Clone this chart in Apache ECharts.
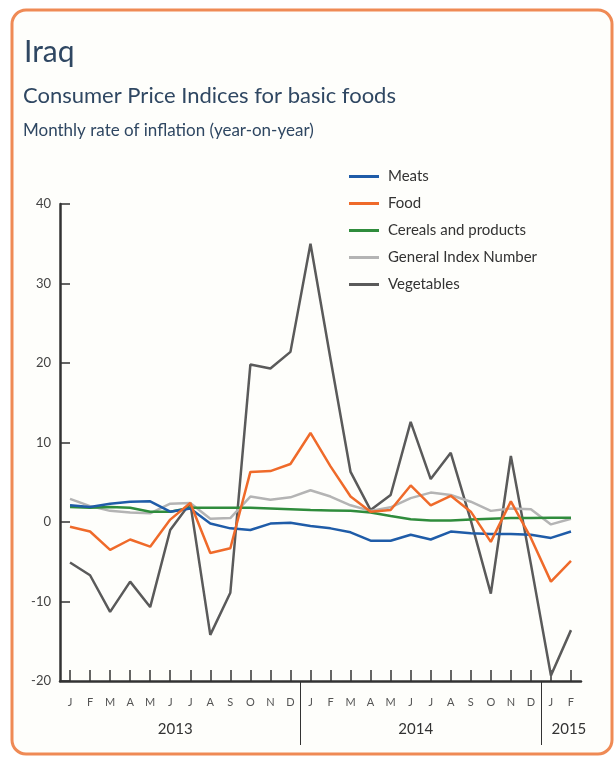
<!DOCTYPE html>
<html>
<head>
<meta charset="utf-8">
<script src="https://cdn.jsdelivr.net/npm/echarts@6/dist/echarts.min.js"></script>
<style>
  html, body { margin: 0; padding: 0; background: #ffffff; }
  #main { width: 615px; height: 757px; }
</style>
</head>
<body>
<div id="main"></div>
<script>
// month letters on the axis, Jan 2013 .. Feb 2015
var months = ['J','F','M','A','M','J','J','A','S','O','N','D',
              'J','F','M','A','M','J','J','A','S','O','N','D',
              'J','F'];
var yearLabels = ['2013', '2014', '2015'];
var monthsPerYear = [12, 12, 2];

// year-on-year inflation, %
var meats =        [2.1, 1.9, 2.3, 2.55, 2.6, 1.3, 1.7, -0.2, -0.8, -1.0, -0.2, -0.1,
                    -0.5, -0.8, -1.3, -2.35, -2.35, -1.6, -2.2, -1.2, -1.4, -1.5, -1.5, -1.6,
                    -2.0, -1.2];
var food =         [-0.6, -1.2, -3.5, -2.2, -3.1, 0.3, 2.4, -3.9, -3.3, 6.3, 6.4, 7.3,
                    11.2, 7.0, 3.2, 1.3, 1.5, 4.6, 2.1, 3.3, 1.3, -2.5, 2.6, -2.0,
                    -7.5, -4.9];
var cereals =      [1.9, 1.8, 1.9, 1.8, 1.3, 1.3, 1.8, 1.8, 1.8, 1.8, 1.7, 1.6,
                    1.5, 1.45, 1.4, 1.2, 0.75, 0.35, 0.2, 0.2, 0.3, 0.4, 0.5, 0.5,
                    0.55, 0.55];
var generalIndex = [2.9, 2.0, 1.4, 1.2, 1.1, 2.3, 2.4, 0.4, 0.5, 3.2, 2.8, 3.1,
                    4.0, 3.2, 2.1, 1.4, 1.85, 3.0, 3.7, 3.4, 2.55, 1.4, 1.7, 1.6,
                    -0.3, 0.4];
var vegetables =   [-5.1, -6.7, -11.3, -7.5, -10.7, -1.0, 2.4, -14.2, -8.9, 19.8, 19.3, 21.4,
                    35.0, 20.5, 6.3, 1.5, 3.4, 12.6, 5.4, 8.7, 0.2, -9.0, 8.3, -5.3,
                    -19.3, -13.6];

var FONT = 'Lato';
var TITLE_COLOR = '#2f4762';

var chart = echarts.init(document.getElementById('main'), null, { renderer: 'canvas' });

function lineSeries(name, data, color) {
  return {
    name: name,
    type: 'line',
    data: data,
    symbol: 'none',
    lineStyle: { color: color, width: 2.5 },
    itemStyle: { color: color },
    emphasis: { disabled: true }
  };
}

var option = {
  backgroundColor: '#ffffff',
  animation: false,
  textStyle: { fontFamily: FONT },
  title: [
    {
      text: 'Iraq', left: 24, top: 37, padding: 0,
      textStyle: { fontFamily: FONT, fontSize: 30, fontWeight: 'normal', color: TITLE_COLOR }
    },
    {
      text: 'Consumer Price Indices for basic foods', left: 23, top: 85, padding: 0,
      textStyle: { fontFamily: FONT, fontSize: 22, fontWeight: 'normal', color: TITLE_COLOR }
    },
    {
      text: 'Monthly rate of inflation (year-on-year)', left: 23, top: 122, padding: 0,
      textStyle: { fontFamily: FONT, fontSize: 17, fontWeight: 'normal', color: TITLE_COLOR }
    }
  ],
  legend: {
    orient: 'vertical',
    left: 349,
    top: 169,
    padding: 0,
    icon: 'rect',
    itemWidth: 30,
    itemHeight: 3,
    itemGap: 12,
    data: ['Meats', 'Food', 'Cereals and products', 'General Index Number', 'Vegetables'],
    textStyle: { fontFamily: FONT, fontSize: 15, color: '#333333', padding: [0, 0, 0, 4] }
  },
  grid: { left: 60, top: 204, width: 521, height: 477 },
  xAxis: {
    type: 'category',
    data: months,
    boundaryGap: true,
    axisLine: { show: true, onZero: false, lineStyle: { color: '#333333', width: 2.5 } },
    axisTick: { show: true, inside: true, alignWithLabel: true, interval: 0, length: 11,
                lineStyle: { color: '#333333', width: 1.5 } },
    axisLabel: { show: true, interval: 0, margin: 16, fontSize: 11, color: '#555555', fontFamily: FONT },
    splitLine: { show: false }
  },
  yAxis: {
    type: 'value',
    min: -20,
    max: 40,
    interval: 10,
    axisLine: { show: true, onZero: false, lineStyle: { color: '#333333', width: 2.5 } },
    axisTick: { show: true, inside: true, length: 10, lineStyle: { color: '#333333', width: 1.5 } },
    axisLabel: { margin: 9, fontSize: 13, color: '#444444', fontFamily: FONT },
    splitLine: { show: false }
  },
  series: [
    lineSeries('Vegetables', vegetables, '#5a5a5a'),
    lineSeries('General Index Number', generalIndex, '#b4b4b4'),
    lineSeries('Cereals and products', cereals, '#2f8c3c'),
    lineSeries('Meats', meats, '#1f5ca8'),
    lineSeries('Food', food, '#ef6a2a')
  ]
};

chart.setOption(option);

// panel frame, year labels and year dividers placed from the axis scale
var graphics = [{
  type: 'rect',
  z: -10,
  silent: true,
  shape: { x: 12, y: 10, width: 600, height: 744, r: 14 },
  style: { fill: '#fefefb', stroke: '#ef8a55', lineWidth: 3 }
}];

var axisY = chart.convertToPixel({ yAxisIndex: 0 }, -20);
var band = chart.convertToPixel({ xAxisIndex: 0 }, 1) - chart.convertToPixel({ xAxisIndex: 0 }, 0);
var start = 0;
yearLabels.forEach(function (label, k) {
  var n = monthsPerYear[k];
  var x0 = chart.convertToPixel({ xAxisIndex: 0 }, start);
  var x1 = chart.convertToPixel({ xAxisIndex: 0 }, start + n - 1);
  graphics.push({
    type: 'text',
    x: k === yearLabels.length - 1 ? x0 - band / 2 + 28 : (x0 + x1) / 2 - 5,
    y: axisY + 48,
    style: {
      text: label, fill: '#333333', font: '15px ' + FONT,
      align: 'center', verticalAlign: 'middle'
    }
  });
  if (k > 0) {
    var xd = Math.round(x0 - band / 2) + 0.5;
    graphics.push({
      type: 'line',
      shape: { x1: xd, y1: axisY, x2: xd, y2: axisY + 64 },
      style: { stroke: '#333333', lineWidth: 1 }
    });
  }
  start += n;
});

chart.setOption({ graphic: graphics });
</script>
</body>
</html>
